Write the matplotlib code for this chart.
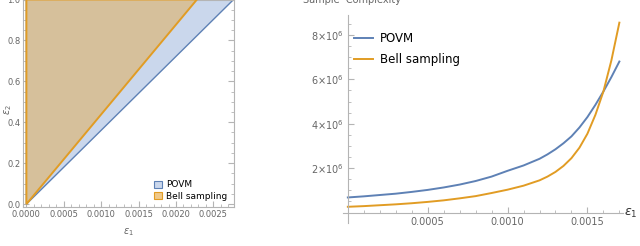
import matplotlib.pyplot as plt
from matplotlib.patches import Polygon, Patch
from matplotlib.ticker import MultipleLocator, FixedLocator

# left panel: corner points of the two feasible regions (eps1, eps2)
povm_region_x = [0.0, 0.00277, 0.0]
povm_region_y = [0.0, 1.0, 1.0]
bell_region_x = [0.0, 0.00228, 0.0]
bell_region_y = [0.0, 1.0, 1.0]

# right panel: sample complexity vs eps1, in millions
eps1 = [0.0, 0.0001, 0.0002, 0.0003, 0.0004, 0.0005, 0.0006, 0.0007, 0.0008,
        0.0009, 0.0010, 0.0011, 0.0012, 0.00125, 0.0013, 0.00135, 0.0014,
        0.00145, 0.0015, 0.00155, 0.0016, 0.00165, 0.0017]
povm = [0.68, 0.73, 0.79, 0.85, 0.93, 1.02, 1.13, 1.26, 1.42, 1.62, 1.88,
        2.12, 2.42, 2.62, 2.85, 3.12, 3.43, 3.83, 4.3, 4.85, 5.45, 6.1, 6.8]
bell = [0.26, 0.29, 0.33, 0.37, 0.42, 0.48, 0.55, 0.64, 0.74, 0.88, 1.03,
        1.21, 1.45, 1.62, 1.83, 2.1, 2.45, 2.92, 3.55, 4.4, 5.45, 6.85, 8.55]
povm = [v * 1e6 for v in povm]
bell = [v * 1e6 for v in bell]

blue = '#5E81B5'
orange = '#E19C24'
gray = '#666666'
axis_gray = '#b4b4b4'

fig = plt.figure(figsize=(6.4, 2.46), dpi=100)

# ---------------- left panel ----------------
ax1 = fig.add_axes([0.036, 0.157, 0.329, 0.845])
ax1.add_patch(Polygon(list(zip(povm_region_x, povm_region_y)), closed=True,
                      facecolor='#cad7ec', edgecolor=blue, lw=1.0, zorder=2))
ax1.add_patch(Polygon(list(zip(bell_region_x, bell_region_y)), closed=True,
                      facecolor='#d6c09b', edgecolor=orange, lw=1.4, zorder=3))
ax1.set_xlim(-0.000045, 0.00277)
ax1.set_ylim(-0.016, 1.0)
ax1.xaxis.set_minor_locator(MultipleLocator(0.0001))
ax1.yaxis.set_minor_locator(MultipleLocator(0.05))
ax1.set_xticks([0.0, 0.0005, 0.001, 0.0015, 0.002, 0.0025])
ax1.set_xticklabels(['0.0000', '0.0005', '0.0010', '0.0015', '0.0020', '0.0025'])
ax1.set_yticks([0.0, 0.2, 0.4, 0.6, 0.8, 1.0])
ax1.set_yticklabels(['0.0', '0.2', '0.4', '0.6', '0.8', '1.0'])
ax1.tick_params(which='both', direction='in', top=True, right=True,
                color=axis_gray, labelcolor=gray, labelsize=6, pad=2)
ax1.tick_params(which='major', length=4)
ax1.tick_params(which='minor', length=2)
for s in ax1.spines.values():
    s.set_color(axis_gray)
ax1.set_xlabel(r'$\varepsilon_1$', fontsize=7, color=gray, labelpad=5)
ax1.set_ylabel(r'$\varepsilon_2$', fontsize=7, color=gray)
ax1.yaxis.set_label_coords(-0.045, 0.47)

h1 = [Patch(facecolor='#cad7ec', edgecolor=blue, lw=0.8),
      Patch(facecolor='#f0c98a', edgecolor=orange, lw=0.8)]
ax1.legend(h1, ['POVM', 'Bell sampling'], loc='lower right', frameon=False,
           fontsize=6.5, handlelength=0.8, handleheight=0.8, handletextpad=0.5,
           labelspacing=0.3, borderaxespad=0.3)

# ---------------- right panel ----------------
ax2 = fig.add_axes([0.536, 0.0935, 0.438, 0.846])
ax2.plot(eps1, povm, color=blue, lw=1.4, label='POVM')
ax2.plot(eps1, bell, color=orange, lw=1.4, label='Bell sampling')
ax2.set_xlim(-0.00003, 0.001725)
ax2.set_ylim(-0.47e6, 8.9e6)
ax2.spines['left'].set_position(('data', 0))
ax2.spines['bottom'].set_position(('data', 0))
ax2.spines['top'].set_visible(False)
ax2.spines['right'].set_visible(False)
ax2.spines['left'].set_color(axis_gray)
ax2.spines['bottom'].set_color(axis_gray)
ax2.xaxis.set_major_locator(FixedLocator([0.0005, 0.001, 0.0015]))
ax2.xaxis.set_minor_locator(MultipleLocator(0.0001))
ax2.set_xticklabels(['0.0005', '0.0010', '0.0015'])
ax2.yaxis.set_major_locator(FixedLocator([2e6, 4e6, 6e6, 8e6]))
ax2.yaxis.set_minor_locator(MultipleLocator(0.5e6))
ax2.set_yticklabels([r'2$\times$10$^6$', r'4$\times$10$^6$',
                     r'6$\times$10$^6$', r'8$\times$10$^6$'])
ax2.tick_params(which='both', direction='in', color=axis_gray,
                labelcolor=gray, labelsize=7, pad=3)
ax2.tick_params(which='major', length=4)
ax2.tick_params(which='minor', length=2)
ax2.legend(loc='upper left', frameon=False, fontsize=8.5, handlelength=1.6,
           handletextpad=0.6, labelspacing=0.7,
           bbox_to_anchor=(0.0, 0.97))

fig.text(0.985, 0.134, r'$\varepsilon_1$', fontsize=9, color='#333333',
         ha='center', va='center')
fig.text(0.474, 0.998, 'Sample  Complexity', fontsize=7, color=gray,
         ha='left', va='center')

fig.savefig('out.png', dpi=100)
